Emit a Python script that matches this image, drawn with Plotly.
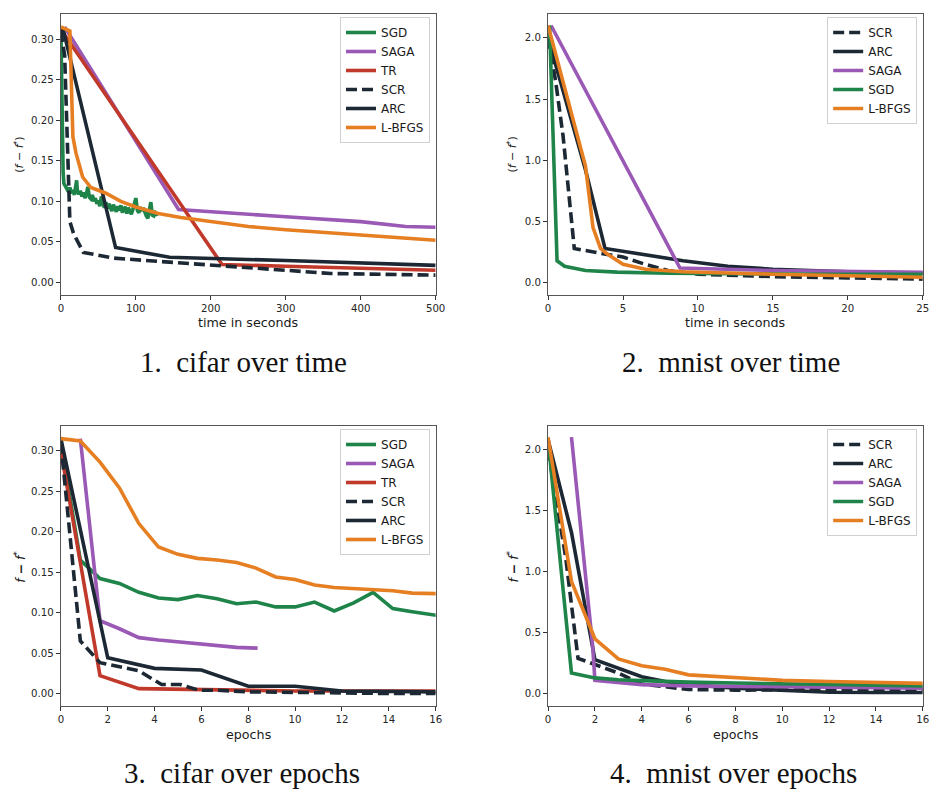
import plotly.graph_objects as go

# ---------------- data ----------------
# Panel 1: cifar over time (seconds)
c_t_sgd_x = [0, 1, 2, 3, 4, 6, 8, 10, 12, 14, 16, 18, 20, 21, 22, 24, 26, 28, 30, 32, 34, 36, 38, 40,
             42, 44, 46, 48, 50, 52, 54, 56, 58, 60, 62, 64, 66, 68, 70, 72, 74, 76, 78, 80, 82, 84,
             86, 88, 90, 92, 94, 96, 98, 100, 102, 104, 106, 108, 110, 112, 114, 116, 118, 120, 122,
             124, 126, 128, 130]
c_t_sgd_y = [0.31, 0.24, 0.17, 0.135, 0.122, 0.118, 0.115, 0.112, 0.117, 0.110, 0.114, 0.108, 0.120,
             0.126, 0.112, 0.109, 0.113, 0.106, 0.111, 0.104, 0.109, 0.118, 0.105, 0.103, 0.108, 0.100,
             0.104, 0.097, 0.101, 0.094, 0.106, 0.098, 0.092, 0.099, 0.091, 0.097, 0.093, 0.088, 0.096,
             0.090, 0.087, 0.094, 0.089, 0.095, 0.086, 0.091, 0.093, 0.085, 0.092, 0.088, 0.084, 0.090,
             0.096, 0.104, 0.089, 0.086, 0.093, 0.088, 0.092, 0.085, 0.082, 0.079, 0.088, 0.099, 0.083,
             0.082, 0.086, 0.084, 0.085]
c_t_saga_x = [5, 157, 300, 400, 460, 500]
c_t_saga_y = [0.315, 0.090, 0.081, 0.075, 0.069, 0.068]
c_t_tr_x = [0, 215, 300, 400, 500]
c_t_tr_y = [0.312, 0.022, 0.020, 0.017, 0.015]
c_t_scr_x = [0, 5, 12, 17, 30, 70, 145, 215, 300, 360, 500]
c_t_scr_y = [0.31, 0.28, 0.075, 0.060, 0.037, 0.030, 0.025, 0.020, 0.015, 0.011, 0.009]
c_t_arc_x = [0, 3, 73, 145, 300, 500]
c_t_arc_y = [0.30, 0.312, 0.043, 0.031, 0.027, 0.021]
c_t_lbfgs_x = [0, 12, 16, 20, 29, 40, 60, 80, 100, 130, 160, 200, 250, 300, 400, 500]
c_t_lbfgs_y = [0.315, 0.310, 0.18, 0.16, 0.13, 0.117, 0.11, 0.10, 0.093, 0.085, 0.080, 0.075, 0.069,
               0.065, 0.058, 0.052]

# Panel 2: mnist over time (seconds)
m_t_scr_x = [0, 0.5, 1.0, 1.75, 3.5, 5, 6.5, 8, 10, 15, 20, 25]
m_t_scr_y = [2.0, 1.65, 1.2, 0.28, 0.24, 0.21, 0.15, 0.10, 0.07, 0.05, 0.04, 0.03]
m_t_arc_x = [0, 2.5, 3.8, 6, 9, 12, 15, 20, 25]
m_t_arc_y = [2.0, 0.92, 0.28, 0.24, 0.18, 0.135, 0.11, 0.09, 0.08]
m_t_saga_x = [0.2, 8.8, 15, 25]
m_t_saga_y = [2.1, 0.12, 0.10, 0.085]
m_t_sgd_x = [0, 0.1, 0.6, 1.1, 2.5, 4.6, 8, 12, 18, 25]
m_t_sgd_y = [2.0, 2.1, 0.18, 0.135, 0.10, 0.087, 0.078, 0.073, 0.07, 0.068]
m_t_lbfgs_x = [0, 2.5, 3.0, 3.5, 4.0, 5.0, 6.5, 9, 15, 25]
m_t_lbfgs_y = [2.1, 0.95, 0.45, 0.28, 0.23, 0.15, 0.11, 0.09, 0.07, 0.045]

# Panel 3: cifar over epochs
c_e_sgd_x = [0, 0.83, 1.67, 2.5, 3.33, 4.17, 5.0, 5.83, 6.67, 7.5, 8.33, 9.17, 10.0, 10.83, 11.67,
             12.5, 13.33, 14.17, 15.0, 15.83, 16.67]
c_e_sgd_y = [0.31, 0.165, 0.142, 0.136, 0.125, 0.118, 0.116, 0.121, 0.117, 0.111, 0.113, 0.107, 0.107,
             0.113, 0.102, 0.112, 0.125, 0.105, 0.101, 0.097, 0.094]
c_e_saga_x = [0.83, 1.67, 2.5, 3.33, 4.17, 5.0, 5.83, 6.67, 7.5, 8.4]
c_e_saga_y = [0.315, 0.090, 0.080, 0.069, 0.066, 0.064, 0.061, 0.059, 0.057, 0.056]
c_e_tr_x = [0, 1.67, 3.33, 5, 6.67, 8.33, 10, 12, 14, 16]
c_e_tr_y = [0.30, 0.022, 0.006, 0.005, 0.004, 0.004, 0.003, 0.003, 0.003, 0.003]
c_e_scr_x = [0, 0.83, 1.67, 2.5, 3.33, 4.3, 5.1, 5.9, 6.67, 8, 10, 12, 14, 16]
c_e_scr_y = [0.31, 0.065, 0.038, 0.033, 0.028, 0.011, 0.011, 0.004, 0.004, 0.002, 0.001, 0.0, 0.0, 0.0]
c_e_arc_x = [0, 2, 4, 6, 8, 10, 12, 14, 16]
c_e_arc_y = [0.315, 0.044, 0.031, 0.029, 0.009, 0.009, 0.003, 0.002, 0.002]
c_e_lbfgs_x = [0, 0.83, 1.67, 2.5, 3.33, 4.17, 5.0, 5.83, 6.67, 7.5, 8.33, 9.17, 10.0, 10.83, 11.67,
               12.5, 13.33, 14.17, 15.0, 15.83, 16.67]
c_e_lbfgs_y = [0.315, 0.312, 0.286, 0.254, 0.210, 0.181, 0.172, 0.167, 0.165, 0.162, 0.155, 0.144,
               0.141, 0.134, 0.131, 0.130, 0.129, 0.127, 0.124, 0.123, 0.123]

# Panel 4: mnist over epochs
m_e_scr_x = [0, 0.75, 1.28, 2, 3, 4, 5, 6, 8, 10, 12, 14, 16]
m_e_scr_y = [2.0, 1.12, 0.29, 0.24, 0.17, 0.08, 0.055, 0.035, 0.03, 0.03, 0.03, 0.03, 0.035]
m_e_arc_x = [0, 1, 2, 3, 4, 5, 6, 8, 10, 12, 14, 16]
m_e_arc_y = [2.08, 1.32, 0.28, 0.21, 0.14, 0.10, 0.075, 0.045, 0.025, 0.012, 0.01, 0.01]
m_e_saga_x = [1, 1.9, 2, 3, 4, 6, 8, 10, 12, 14, 16]
m_e_saga_y = [2.1, 0.40, 0.11, 0.09, 0.075, 0.065, 0.06, 0.055, 0.052, 0.05, 0.046]
m_e_sgd_x = [0, 1, 2, 3, 4, 5, 6, 8, 10, 12, 14, 16]
m_e_sgd_y = [2.08, 0.17, 0.13, 0.115, 0.108, 0.10, 0.095, 0.088, 0.082, 0.075, 0.07, 0.065]
m_e_lbfgs_x = [0, 1, 2, 3, 4, 5, 6, 8, 10, 12, 14, 16]
m_e_lbfgs_y = [2.1, 0.92, 0.45, 0.285, 0.23, 0.2, 0.155, 0.13, 0.11, 0.1, 0.09, 0.085]

captions = ["1.\u00a0\u00a0cifar over time", "2.\u00a0\u00a0mnist over time",
            "3.\u00a0\u00a0cifar over epochs", "4.\u00a0\u00a0mnist over epochs"]

# ---------------- styling ----------------
COL = {"SGD": "#1e8449", "SAGA": "#9b59b6", "TR": "#c0392b", "SCR": "#1c2833",
       "ARC": "#1c2833", "L-BFGS": "#e67e22"}
W = 940
H = 790
LW = 3.6
SANS = "DejaVu Sans"

fig = go.Figure()

panels = [
    ("x", "y", "legend", [("SGD", c_t_sgd_x, c_t_sgd_y), ("SAGA", c_t_saga_x, c_t_saga_y),
                          ("TR", c_t_tr_x, c_t_tr_y), ("SCR", c_t_scr_x, c_t_scr_y),
                          ("ARC", c_t_arc_x, c_t_arc_y), ("L-BFGS", c_t_lbfgs_x, c_t_lbfgs_y)]),
    ("x2", "y2", "legend2", [("SCR", m_t_scr_x, m_t_scr_y), ("ARC", m_t_arc_x, m_t_arc_y),
                             ("SAGA", m_t_saga_x, m_t_saga_y), ("SGD", m_t_sgd_x, m_t_sgd_y),
                             ("L-BFGS", m_t_lbfgs_x, m_t_lbfgs_y)]),
    ("x3", "y3", "legend3", [("SGD", c_e_sgd_x, c_e_sgd_y), ("SAGA", c_e_saga_x, c_e_saga_y),
                             ("TR", c_e_tr_x, c_e_tr_y), ("SCR", c_e_scr_x, c_e_scr_y),
                             ("ARC", c_e_arc_x, c_e_arc_y), ("L-BFGS", c_e_lbfgs_x, c_e_lbfgs_y)]),
    ("x4", "y4", "legend4", [("SCR", m_e_scr_x, m_e_scr_y), ("ARC", m_e_arc_x, m_e_arc_y),
                             ("SAGA", m_e_saga_x, m_e_saga_y), ("SGD", m_e_sgd_x, m_e_sgd_y),
                             ("L-BFGS", m_e_lbfgs_x, m_e_lbfgs_y)]),
]

for xa, ya, lg, series in panels:
    for name, xs, ys in series:
        fig.add_trace(go.Scatter(
            x=xs, y=ys, mode="lines", name=name, xaxis=xa, yaxis=ya, legend=lg,
            line=dict(color=COL[name], width=LW, dash="11px,5px" if name == "SCR" else "solid"),
            hoverinfo="skip"))

xdom_l = [58.7 / W, 438.7 / W]
xdom_r = [552.7 / W, 932.7 / W]
ydom_t = [1 - 295 / H, 1 - 14 / H]
ydom_b = [1 - 706 / H, 1 - 425.7 / H]

def xax(dom, rng, dtick, anchor):
    return dict(domain=dom, range=rng, dtick=dtick, tick0=0, anchor=anchor,
                showline=True, mirror=True, linecolor="#555555", linewidth=1.3,
                ticks="outside", ticklen=4, tickwidth=1, tickcolor="#333333",
                showgrid=False, zeroline=False,
                tickfont=dict(family=SANS, size=10.2, color="#262626"))

def yax(dom, rng, dtick, fmt, anchor):
    return dict(domain=dom, range=rng, dtick=dtick, tick0=0, tickformat=fmt, anchor=anchor,
                showline=True, mirror=True, linecolor="#555555", linewidth=1.3,
                ticks="outside", ticklen=4, tickwidth=1, tickcolor="#333333",
                showgrid=False, zeroline=False,
                tickfont=dict(family=SANS, size=10.2, color="#262626"))

leg_common = dict(xanchor="right", yanchor="top", bgcolor="rgba(255,255,255,0.85)",
                  bordercolor="#d0d0d0", borderwidth=1,
                  font=dict(family=SANS, size=12, color="#1a1a1a"),
                  tracegroupgap=0, itemwidth=30)

annotations = []
def ann(text, px, py, size, family=SANS, angle=0, color="#1a1a1a"):
    annotations.append(dict(text=text, x=px / W, y=1 - py / H, xref="paper", yref="paper",
                            xanchor="center", yanchor="middle", showarrow=False,
                            textangle=angle, font=dict(family=family, size=size, color=color)))

ann("time in seconds", 248.7, 322.7, 12.7)
ann("time in seconds", 742.7, 322.7, 12.7)
ann("epochs", 248.7, 734, 12.7)
ann("epochs", 742.7, 734, 12.7)
ann("(<i>f</i> − <i>f</i><sup>*</sup>)", 17, 155, 11, angle=-90)
ann("(<i>f</i> − <i>f</i><sup>*</sup>)", 516.7, 155, 11, angle=-90)
ann("<i>f</i> <b>−</b> <i>f</i><sup>*</sup>", 17, 567, 12.5, angle=-90)
ann("<i>f</i> <b>−</b> <i>f</i><sup>*</sup>", 516.7, 567, 12.5, angle=-90)
SERIF = "Liberation Serif"
ann(captions[0], 244, 362, 29, family=SERIF, color="#111111")
ann(captions[1], 738, 362, 29, family=SERIF, color="#111111")
ann(captions[2], 242, 773, 29, family=SERIF, color="#111111")
ann(captions[3], 741, 773, 29, family=SERIF, color="#111111")

fig.update_layout(
    width=W, height=H, margin=dict(l=0, r=0, t=0, b=0),
    paper_bgcolor="white", plot_bgcolor="white",
    xaxis=xax(xdom_l, [0, 500], 100, "y"),
    yaxis=yax(ydom_t, [-0.0155, 0.331], 0.05, ".2f", "x"),
    xaxis2=xax(xdom_r, [0, 25], 5, "y2"),
    yaxis2=yax(ydom_t, [-0.10, 2.194], 0.5, ".1f", "x2"),
    xaxis3=xax(xdom_l, [0, 16], 2, "y3"),
    yaxis3=yax(ydom_b, [-0.0155, 0.331], 0.05, ".2f", "x3"),
    xaxis4=xax(xdom_r, [0, 16], 2, "y4"),
    yaxis4=yax(ydom_b, [-0.10, 2.194], 0.5, ".1f", "x4"),
    legend=dict(x=433 / W, y=1 - 17 / H, **leg_common),
    legend2=dict(x=927 / W, y=1 - 17 / H, **leg_common),
    legend3=dict(x=433 / W, y=1 - 429 / H, **leg_common),
    legend4=dict(x=927 / W, y=1 - 429 / H, **leg_common),
    annotations=annotations,
    showlegend=True,
)

fig.write_html("out.html")
